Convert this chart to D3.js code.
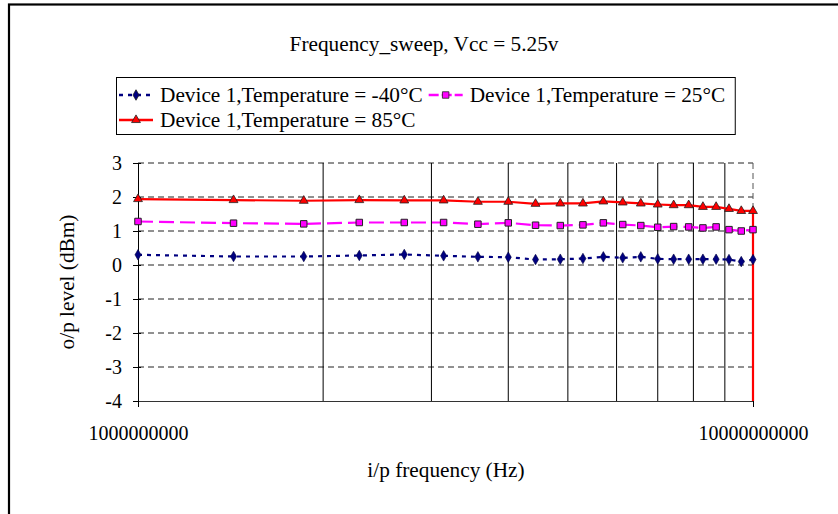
<!DOCTYPE html>
<html><head><meta charset="utf-8">
<script src="https://cdn.jsdelivr.net/npm/d3@7"></script>
<style>body{margin:0;background:#fff}svg{display:block}</style>
</head><body><svg id="c" width="838" height="514"></svg>
<script>
const title = "Frequency_sweep, Vcc = 5.25v";
const xTitle = "i/p frequency (Hz)";
const yTitle = "o/p level (dBm)";
const freqHz = [1.00e9,1.43e9,1.86e9,2.29e9,2.71e9,3.14e9,3.57e9,4.00e9,4.43e9,4.86e9,5.29e9,5.71e9,6.14e9,6.57e9,7.00e9,7.43e9,7.86e9,8.29e9,8.71e9,9.14e9,9.57e9,10.00e9];
const seriesNames = ["Device 1,Temperature = -40°C","Device 1,Temperature = 25°C","Device 1,Temperature = 85°C"];
const tempM40 = [0.30,0.25,0.25,0.28,0.31,0.27,0.24,0.23,0.16,0.17,0.19,0.24,0.21,0.24,0.18,0.17,0.17,0.17,0.17,0.16,0.10,0.16];
const temp25 = [1.28,1.23,1.21,1.25,1.25,1.25,1.20,1.24,1.17,1.16,1.18,1.24,1.19,1.16,1.11,1.13,1.12,1.09,1.12,1.04,1.00,1.04];
const temp85 = [1.94,1.91,1.89,1.91,1.90,1.90,1.86,1.86,1.80,1.81,1.81,1.87,1.84,1.81,1.78,1.76,1.76,1.71,1.71,1.65,1.59,1.59];
const temp85TailX = [10.00e9];
const temp85TailY = [-40];
const yTicks = [-4,-3,-2,-1,0,1,2,3];
const xTickVals = [1e9,1e10];
const xTickLabels = ["1000000000","10000000000"];
const xGridVals = [2e9,3e9,4e9,5e9,6e9,7e9,8e9,9e9];

const FONT = "Liberation Serif";
const FS = 21.3;
const svg = d3.select("#c");
const L=138,R=753,T=163,B=401;
const x = d3.scaleLog().domain([1e9,1e10]).range([L,R]);
const y = d3.scaleLinear().domain([-4,3]).range([B,T]);

svg.append("rect").attr("x",9).attr("y",4.5).attr("width",900).attr("height",600)
  .attr("fill","none").attr("stroke","#000").attr("stroke-width",2.2);

function txt(sel, fs){ return sel.attr("font-family",FONT).attr("font-size",fs||FS).attr("fill","#000"); }

txt(svg.append("text")).attr("x",424).attr("y",43.5).attr("dy","0.35em").attr("text-anchor","middle").text(title);

svg.append("clipPath").attr("id","pc").append("rect").attr("x",L-6).attr("y",T-6).attr("width",R-L+12).attr("height",B-T+6);

const g = svg.append("g");
g.selectAll(".hg").data(yTicks.filter(d=>d>-4)).enter().append("line")
  .attr("x1",L).attr("x2",R).attr("y1",d=>y(d)).attr("y2",d=>y(d))
  .attr("stroke","#222").attr("stroke-width",1).attr("stroke-dasharray","6,4");
g.selectAll(".vg").data(xGridVals).enter().append("line")
  .attr("x1",d=>x(d)).attr("x2",d=>x(d)).attr("y1",T).attr("y2",B)
  .attr("stroke","#000").attr("stroke-width",1);
g.append("line").attr("x1",R).attr("x2",R).attr("y1",T).attr("y2",B)
  .attr("stroke","#555").attr("stroke-width",1).attr("stroke-dasharray","6,4");

const yAxis = d3.axisLeft(y).tickValues(yTicks).tickFormat(d=>String(d)).tickSize(0).tickPadding(16);
const ya = svg.append("g").attr("transform",`translate(${L},0)`).call(yAxis);
ya.select(".domain").attr("stroke","#000");
txt(ya.selectAll("text"), 20);
ya.selectAll(".tick").append("line").attr("x1",-5).attr("x2",3).attr("stroke","#000");

const xAxis = d3.axisBottom(x).tickValues(xTickVals).tickFormat((d,i)=>xTickLabels[i]).tickSize(6).tickPadding(20);
const xa = svg.append("g").attr("transform",`translate(0,${B})`).call(xAxis);
xa.select(".domain").attr("stroke","#333");
xa.selectAll(".tick line").attr("stroke","#000").attr("y1",-3);
txt(xa.selectAll("text"), 20).attr("y",null).attr("dy","0.35em").attr("transform","translate(0,32)");

txt(svg.append("text")).attr("x",446).attr("y",470).attr("dy","0.35em").attr("text-anchor","middle").text(xTitle);
txt(svg.append("text")).attr("transform","translate(67,282) rotate(-90)").attr("dy","0.35em").attr("text-anchor","middle").text(yTitle);

const plot = svg.append("g").attr("clip-path","url(#pc)");
const line = d3.line().x(d=>x(d[0])).y(d=>y(d[1]));
const dBlue = freqHz.map((f,i)=>[f,tempM40[i]]);
const dMag = freqHz.map((f,i)=>[f,temp25[i]]);
const dRed = freqHz.map((f,i)=>[f,temp85[i]]).concat(temp85TailX.map((f,i)=>[f,temp85TailY[i]]));

plot.append("path").datum(dRed).attr("d",line).attr("fill","none").attr("stroke","#ff0000").attr("stroke-width",2.2);
plot.append("path").datum(dMag).attr("d",line).attr("fill","none").attr("stroke","#ff00ff").attr("stroke-width",2.2).attr("stroke-dasharray","15,6");
plot.append("path").datum(dBlue).attr("d",line).attr("fill","none").attr("stroke","#000080").attr("stroke-width",2.2).attr("stroke-dasharray","4,5");

const sym = {
  diamond: d3.symbol().type(d3.symbolDiamond).size(32),
  square: d3.symbol().type(d3.symbolSquare).size(42),
  triangle: d3.symbol().type(d3.symbolTriangle).size(34)
};
plot.selectAll(".mb").data(dBlue).enter().append("path").attr("d",sym.diamond())
  .attr("transform",d=>`translate(${x(d[0])},${y(d[1])})`).attr("fill","#000080").attr("stroke","#000040").attr("stroke-width",0.6);
plot.selectAll(".mm").data(dMag).enter().append("path").attr("d",sym.square())
  .attr("transform",d=>`translate(${x(d[0])},${y(d[1])})`).attr("fill","#ff00ff").attr("stroke","#222").attr("stroke-width",1);
plot.selectAll(".mr").data(dRed).enter().append("path").attr("d",sym.triangle())
  .attr("transform",d=>`translate(${x(d[0])},${y(d[1])})`).attr("fill","#ff0000").attr("stroke","#222").attr("stroke-width",0.8);

// legend
const lg = svg.append("g");
const box = lg.append("rect").attr("x",116.5).attr("y",77.5).attr("height",57).attr("fill","#fff").attr("stroke","#000").attr("stroke-width",1);
const rows = [[0,1],[2]];
const styles = [
  {color:"#000080", dash:"4,5", sym:"diamond"},
  {color:"#ff00ff", dash:"10,3", sym:"square"},
  {color:"#ff0000", dash:null, sym:"triangle"}
];
const rowY = [95,120];
let maxX = 0;
rows.forEach((r,ri)=>{
  let cx = 119;
  r.forEach(si=>{
    const st = styles[si];
    lg.append("line").attr("x1",cx).attr("x2",cx+34).attr("y1",rowY[ri]).attr("y2",rowY[ri])
      .attr("stroke",st.color).attr("stroke-width",2.5).attr("stroke-dasharray",st.dash);
    lg.append("path").attr("d",sym[st.sym]()).attr("transform",`translate(${cx+17},${rowY[ri]})`)
      .attr("fill",st.color).attr("stroke","#222").attr("stroke-width",0.8);
    const t = txt(lg.append("text")).attr("x",cx+41).attr("y",rowY[ri]).attr("dy","0.35em").text(seriesNames[si]);
    const w = t.node().getComputedTextLength();
    cx = cx + 41 + w + 6;
    maxX = Math.max(maxX, cx);
  });
});
box.attr("width", maxX + 4 - 116.5);
</script></body></html>
